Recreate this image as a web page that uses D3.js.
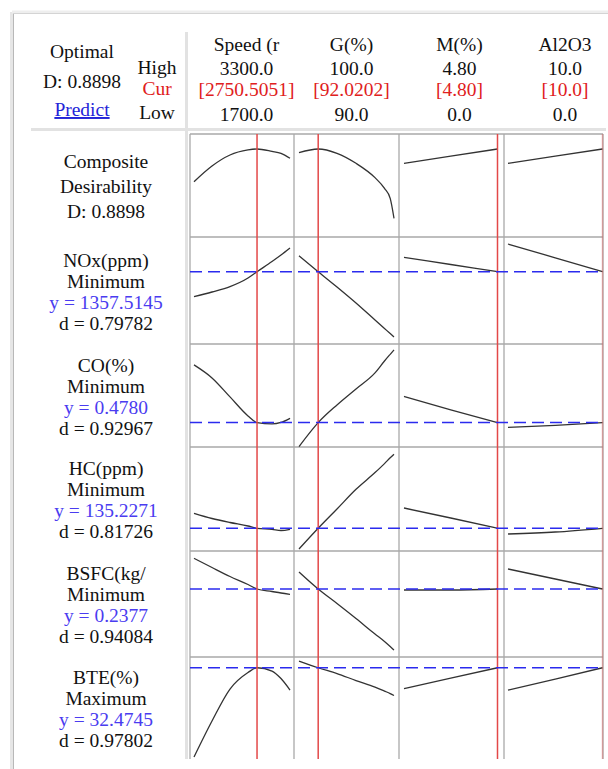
<!DOCTYPE html>
<html><head><meta charset="utf-8">
<script src="https://cdn.jsdelivr.net/npm/d3@7"></script>
<style>
html,body{margin:0;padding:0;background:#fff;}
svg{display:block;font-family:"Liberation Serif","Times New Roman",serif;}
</style>
</head><body><svg id="chart" width="608" height="769"></svg>
<script>
// ---------- DATA ----------
const factors = ["Speed (r", "G(%)", "M(%)", "Al2O3"];
const factorHigh = ["3300.0", "100.0", "4.80", "10.0"];
const factorCur = ["[2750.5051]", "[92.0202]", "[4.80]", "[10.0]"];
const factorLow = ["1700.0", "90.0", "0.0", "0.0"];
const factorMin = [1700, 90, 0, 0];
const factorMax = [3300, 100, 4.8, 10];
const factorOpt = [2750.5051, 92.0202, 4.8, 10.0];

const responseNames = ["NOx(ppm)", "CO(%)", "HC(ppm)", "BSFC(kg/", "BTE(%)"];
const goals = ["Minimum", "Minimum", "Minimum", "Minimum", "Maximum"];
const predicted = ["1357.5145", "0.4780", "135.2271", "0.2377", "32.4745"];
const desirability = ["0.79782", "0.92967", "0.81726", "0.94084", "0.97802"];
const compositeD = "0.8898";

// y-domains for the six rows (composite + 5 responses)
const yDomains = [[0, 1.0415], [996, 1531], [0.356, 0.871], [112.5, 216.5], [0.2037, 0.2567], [23.35, 33.55]];
const targetValues = [null, 1357.5145, 0.4780, 135.2271, 0.2377, 32.4745];

// factor grids at which curves were read
const speedGrid = [1700, 2000, 2300, 2600, 2750.5051, 3000, 3150, 3300];
const gGrid = [90, 92.0202, 94, 96, 98, 99, 99.6, 100];
const mGrid = [0, 2.4, 4.8];
const alGrid = [0, 5, 10];
const grids = [speedGrid, gGrid, mGrid, alGrid];

// Composite desirability
const compSpeed = [0.559, 0.718, 0.829, 0.880, 0.8898, 0.866, 0.846, 0.796];
const compG     = [0.852, 0.8898, 0.846, 0.745, 0.600, 0.492, 0.391, 0.189];
const compM     = [0.745, 0.817, 0.8898];
const compAl    = [0.745, 0.817, 0.8898];
// NOx
const noxSpeed = [1232.5, 1256, 1283, 1326, 1357.5, 1408.5, 1441, 1476];
const noxG     = [1437.5, 1357.5, 1281, 1201, 1116, 1073.5, 1048, 1031];
const noxM     = [1429.5, 1393.5, 1357.5];
const noxAl    = [1496, 1427, 1357.5];
// CO
const coSpeed = [0.7665, 0.7015, 0.6065, 0.5115, 0.478, 0.4715, 0.479, 0.4995];
const coG     = [0.358, 0.478, 0.5665, 0.6465, 0.7265, 0.786, 0.8195, 0.8415];
const coM     = [0.609, 0.5415, 0.478];
const coAl    = [0.454, 0.464, 0.478];
// HC
const hcSpeed = [150.2, 145.0, 141.0, 137.5, 135.2271, 134.2, 133.0, 134.2];
const hcG     = [114.5, 135.2271, 154.5, 174.2, 190.9, 199.9, 205.7, 209.3];
const hcM     = [155.5, 145.5, 135.2271];
const hcAl    = [129.5, 131.5, 135.2271];
// BSFC
const bsfcSpeed = [0.25305, 0.24845, 0.24395, 0.23995, 0.2377, 0.23645, 0.2357, 0.23505];
const bsfcG     = [0.2462, 0.2377, 0.23045, 0.22295, 0.2152, 0.21145, 0.20895, 0.2072];
const bsfcM     = [0.2372, 0.2372, 0.2377];
const bsfcAl    = [0.2477, 0.2427, 0.2377];
// BTE
const bteSpeed = [23.545, 27.145, 30.345, 31.995, 32.4745, 32.145, 31.395, 30.245];
const bteG     = [33.145, 32.4745, 31.895, 31.195, 30.545, 30.145, 29.895, 29.695];
const bteM     = [30.395, 31.445, 32.4745];
const bteAl    = [30.245, 31.345, 32.4745];

const curves = [
  [compSpeed, compG, compM, compAl],
  [noxSpeed, noxG, noxM, noxAl],
  [coSpeed, coG, coM, coAl],
  [hcSpeed, hcG, hcM, hcAl],
  [bsfcSpeed, bsfcG, bsfcM, bsfcAl],
  [bteSpeed, bteG, bteM, bteAl]
];

// ---------- LAYOUT ----------
const colEdges = [190, 294, 399, 504, 603];
const xRanges = [[194, 290], [299, 394], [404, 497.5], [508, 602.5]];
const rowEdges = [134, 237, 344, 447, 551, 657, 759];
const headerX = [246.5, 351.5, 459.5, 565];
const labelX = 106;
const FS = 19.5;

const svg = d3.select("#chart");

// frame (shadowed border)
const frame = svg.append("g");
frame.append("line").attr("x1", 12).attr("x2", 12).attr("y1", 12).attr("y2", 769).attr("stroke", "#e6e6e6").attr("stroke-width", 4);
frame.append("line").attr("x1", 12).attr("x2", 608).attr("y1", 12).attr("y2", 12).attr("stroke", "#eeeeee").attr("stroke-width", 3);
frame.append("line").attr("x1", 13.5).attr("x2", 13.5).attr("y1", 13).attr("y2", 769).attr("stroke", "#b8b8b8").attr("stroke-width", 1);
frame.append("line").attr("x1", 13).attr("x2", 608).attr("y1", 13.5).attr("y2", 13.5).attr("stroke", "#d4d4d4").attr("stroke-width", 1);

// separators (light)
svg.append("line").attr("x1", 186.5).attr("x2", 186.5).attr("y1", 32).attr("y2", 759).attr("stroke", "#e2e2e2").attr("stroke-width", 3);
svg.append("line").attr("x1", 31).attr("x2", 606).attr("y1", 129.5).attr("y2", 129.5).attr("stroke", "#e2e2e2").attr("stroke-width", 3);

// x scales
const xScales = factors.map((f, i) => d3.scaleLinear().domain([factorMin[i], factorMax[i]]).range(xRanges[i]));
// y scales
const yScales = yDomains.map((d, r) => d3.scaleLinear().domain(d).range([rowEdges[r + 1], rowEdges[r]]));

// grid
const grid = svg.append("g").attr("stroke", "#a9a9a9").attr("stroke-width", 1.3);
rowEdges.slice(0, 6).forEach(y => grid.append("line").attr("x1", colEdges[0]).attr("x2", colEdges[4]).attr("y1", y).attr("y2", y));
colEdges.forEach(x => grid.append("line").attr("x1", x).attr("x2", x).attr("y1", rowEdges[0]).attr("y2", rowEdges[6]));

// curves
const cg = svg.append("g");
curves.forEach((rowCurves, r) => {
  rowCurves.forEach((vals, c) => {
    const pts = grids[c].map((g, k) => [g, vals[k]]);
    const line = d3.line().x(d => xScales[c](d[0])).y(d => yScales[r](d[1])).curve(d3.curveMonotoneX);
    cg.append("path").attr("d", line(pts)).attr("fill", "none").attr("stroke", "#333333").attr("stroke-width", 1.3);
  });
});

// red current-setting lines
factorOpt.forEach((v, i) => {
  svg.append("line").attr("x1", xScales[i](v)).attr("x2", xScales[i](v))
    .attr("y1", rowEdges[0]).attr("y2", rowEdges[6])
    .attr("stroke", "#e34848").attr("stroke-width", 1.5)
    .attr("opacity", i === 3 ? 0.35 : 1);
});

// blue dashed predicted lines
targetValues.forEach((v, r) => {
  if (v === null) return;
  const y = yScales[r](v);
  svg.append("line").attr("x1", colEdges[0]).attr("x2", colEdges[4]).attr("y1", y).attr("y2", y)
    .attr("stroke", "#2b2bee").attr("stroke-width", 1.5).attr("stroke-dasharray", "12,6");
});

// ---------- TEXT ----------
function txt(x, y, s, color, anchor) {
  return svg.append("text").attr("x", x).attr("y", y).attr("text-anchor", anchor || "middle")
    .attr("font-size", FS).attr("fill", color || "#111111").text(s);
}
// header left block
txt(82, 58, "Optimal");
txt(82, 88, "D: " + compositeD);
txt(82, 116, "Predict", "#2424d8").attr("text-decoration", "underline");
txt(157, 74, "High");
txt(157, 95, "Cur", "#e02020");
txt(157, 119, "Low");
// header factors
factors.forEach((f, i) => {
  txt(headerX[i], 51, f);
  txt(headerX[i], 75, factorHigh[i]);
  txt(headerX[i], 96, factorCur[i], "#e02020");
  txt(headerX[i], 121, factorLow[i]);
});

// row labels
const c0 = (rowEdges[0] + rowEdges[1]) / 2 + 1;
txt(labelX, c0 - 25 + 6.5, "Composite");
txt(labelX, c0 + 6.5, "Desirability");
txt(labelX, c0 + 25 + 6.5, "D: " + compositeD);
responseNames.forEach((name, i) => {
  const c = (rowEdges[i + 1] + rowEdges[i + 2]) / 2 + 1;
  txt(labelX, c - 31.5 + 6.5, name);
  txt(labelX, c - 10.5 + 6.5, goals[i]);
  txt(labelX, c + 10.5 + 6.5, "y = " + predicted[i], "#4a3cf0");
  txt(labelX, c + 31.5 + 6.5, "d = " + desirability[i]);
});
</script>
</body></html>
